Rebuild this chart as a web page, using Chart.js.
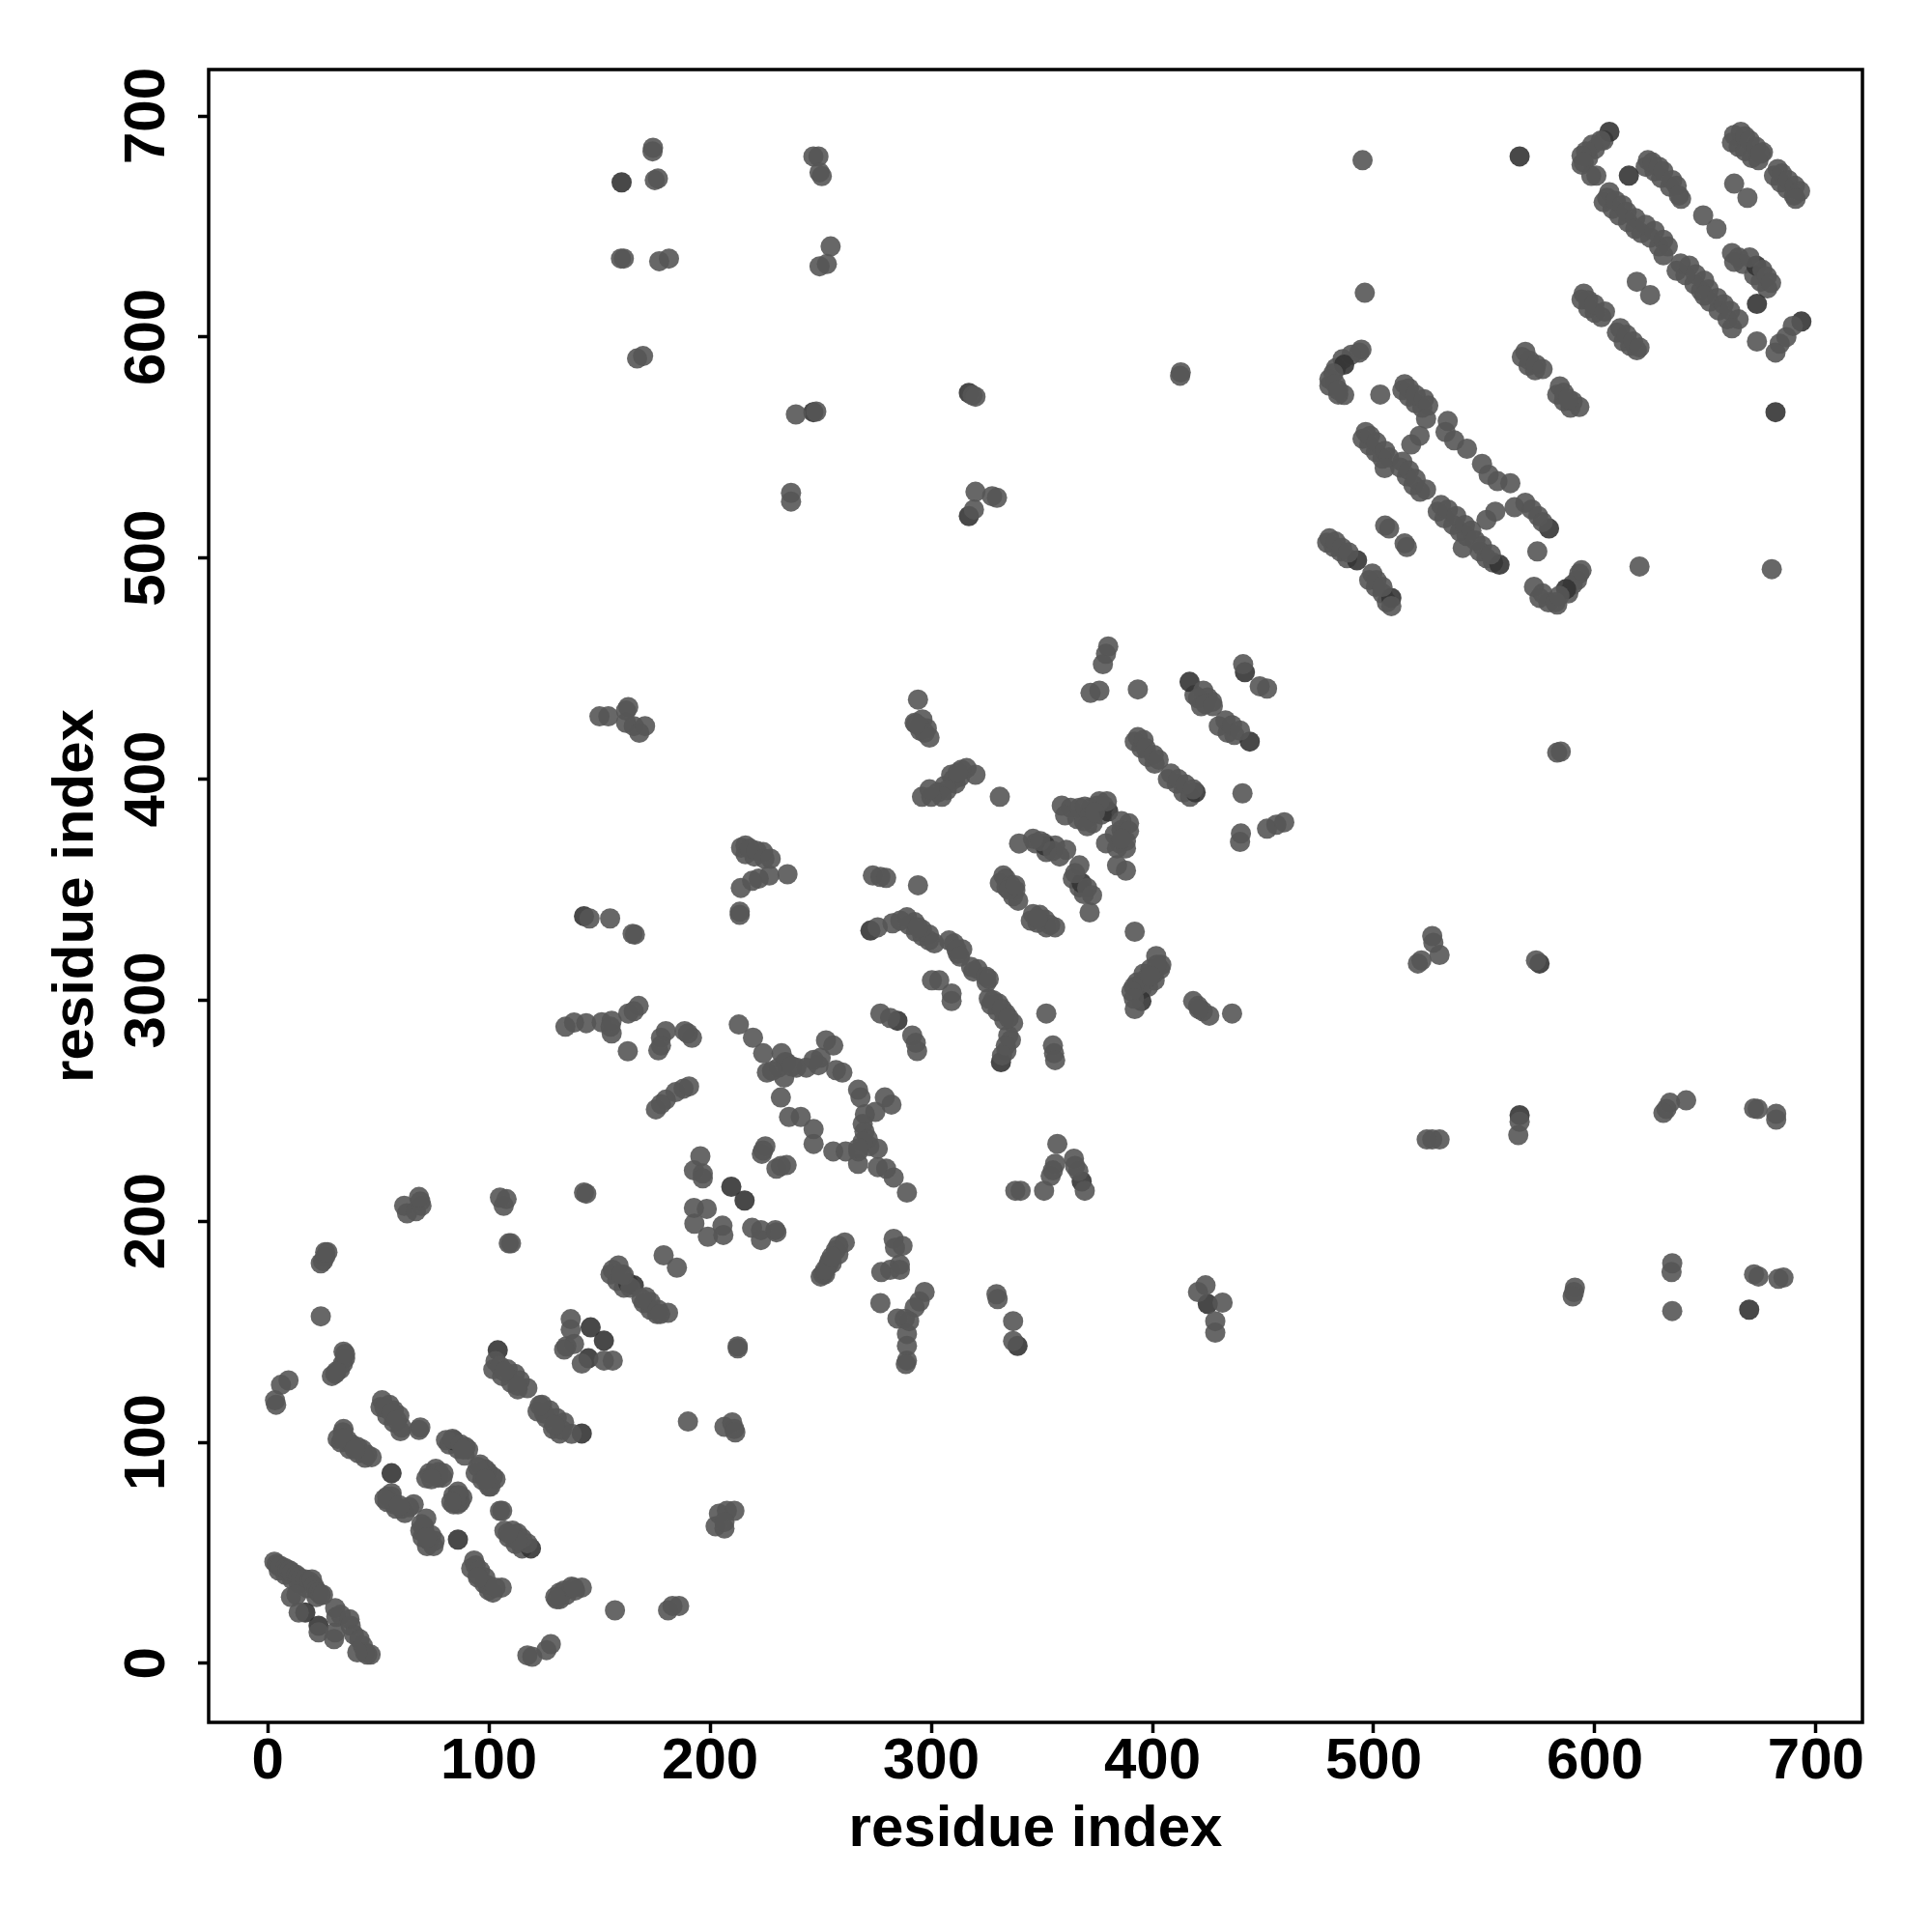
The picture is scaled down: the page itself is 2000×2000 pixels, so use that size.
<!DOCTYPE html>
<html><head><meta charset="utf-8">
<style>html,body{margin:0;padding:0;background:#fff}canvas{display:block}</style>
<script src="https://cdn.jsdelivr.net/npm/chart.js@4"></script>
</head><body><canvas id="c" width="2000" height="2000"></canvas>
<script>
const tickValues = [0,100,200,300,400,500,600,700];
const axisTitle = "residue index";
const contactsLowerLeft = [[3,46],[4,45],[5,44],[6,44],[8,43],[9,42],[10,42],[11,41],[13,40],[14,39],[15,38],[17,38],[19,37],[20,38],[21,35],[22,33],[23,32],[24,31],[25,31],[10.5,30],[13,31],[14,23],[23,14],[30,11],[30.5,14],[31,21],[30.5,25],[33,22],[37,20],[37.5,17],[39,13],[41.5,11],[43,8],[44,5],[45,4],[46.5,4],[40.5,5],
[24,181],[25,182],[26,184],[26,186],[27,186],[24,157],[61.7,207],[63,203.6],[67,204.6],[69,209],[69.5,207],[68.4,211],[105,210.7],[106.7,207],[108,210],[109,190],[110,190],[143,213],[144,212.5],
[3.3,119],[3.8,117],[6,126],[9.4,128],[29,130],[30.5,131],[32.7,133],[34,135.6],[35,138],[34.3,141],[31,132],[35,140],
[31.6,101.6],[34.3,106],[34,104.5],[36,101],[38,99],[40.5,98],[42.8,96.7],[45,94.4],[47,93.3],[33.8,102],[39.4,96.7],
[51.7,119],[55,117],[57,114.5],[59.5,112],[60.6,106.7],[52.8,115.6],[56,113.4],[58.4,110],[69,106.7],[68.4,105.6],
[80.6,101],[83.5,101.6],[87.3,99],[89.5,97.8],[90.6,96.7],[88.4,96.7],[96,90],[98.4,87.8],[99.5,86.6],[101.8,84.4],[103,83.3],[100.7,80],[95,88.9],[98.4,83.3],
[71.7,83.7],[75,85.5],[77.3,86.6],[79.5,86],[74,83.3],[86,77.7],[85,74],[84,72],[86.6,76],[83,73],
[54,75.5],[56,75.5],[57,72],[60.6,70],[64,70.6],[66,72],[52.8,74.4],[59.5,71.5],[71.7,65.5],[70.6,62],[71,59],[73,55.5],[75.5,55.5],[75,53],[69.5,63],[72,57],
[106,69],[105,69],[107,60],[110.7,60],[113,58.8],[115,56.6],[117.4,54.3],[113,55.5],[108.5,59],
[93.3,46.5],[94,44.3],[96,42],[98.4,38.8],[99.5,35.4],[101.8,32],[105.8,34.3],[103,34.3],[95,38.8],
[130.7,29],[132,32],[134,33],[137.4,34.7],[142,34.3],[138.5,34.3],[130,30],[157,24],[181,24],[183,26],[186,26],[117.4,3.6],[119.6,3],[126,6],[128,8.7],
[103,136.7],[105,134.5],[108.5,133],[111.8,131],[114,128],[117.4,124.5],[113,125.6],[107,132],[124,117],[127.4,114.5],[130.7,111],[134,109],[133,105.6],[137.4,103.8],[125,113],[123,116.7],[129.6,107.8],
[137,155.7],[137,151],[135,143.4],[138.5,144.5],[142,135.6],[152,137],[156,137],[134,142],[158.6,180],[156,178],[161,175.7],[164,170],[171,165.7],[173,163.5],[176.4,160],[181,158.6],[177.5,158],[169,165],[160,176],
[179,184.6],[185,179],[212.5,143.4],[212.5,142.5],[190,109.4],[206.5,107],[210,109],[211,106],[211.4,104.5],[202.5,62],[204,67.7],[206.5,61],[207.6,69],[211,69],[206.5,64]];
const contactsCentre = [[150,428.4],[154,428.4],[163,432.6],[162,431],[162,425.5],[165.5,424],[168,421],[170.6,424],
[214,369],[218,368.7],[221,367.6],[224.6,364],[227.4,364],[235,357],[226.8,356.4],[222,355],[219,354],[213.9,350.8],[213.4,338.6],[213.4,340],[145.5,337],[154.8,337],[166,329.7],[165,330],
[134.6,288],[138.5,289.9],[144,289.6],[151,290],[155.5,290.7],[155.5,285],[155,288],[163,294],[167.7,297.4],[165.5,295],[162.8,276.9],
[177.8,283],[180,286],[177.8,279.5],[176.6,277.3],[188.5,286],[191.8,283],[190,285],[175.5,250.6],[177.8,253],[180,255],[184.4,258.4],[188,260],[190.5,261],
[213,289],[219.4,283],[224,276],[232.3,276],[225.7,267.3],[231,269.5],[234.6,271.8],[233.5,265],[232,256],[235.7,247.2],[241,247.2],[239,269.5],[243.5,269.5],[246.8,273],[250,274],[252.4,281.8],[255.7,279.5],[249,270.6],[256.9,268.4],[259.8,267.3],[266.9,259.5],[268,256],[279,256],[282,252.8],[274.7,249.5],[270,248.4],[269,244],[269.8,240.6],[246.8,241.7],[246.8,235],[255.7,231.6],[261.3,231.6],[267,231.6],[271.3,237.2],[266.9,226],[275.8,232.8],[275.8,224.5],[279.6,223.8],[283,219.8],[289,213],[234,272],[237,270],[228,268],[272,234],[269,236],[267,233],
[225,233.9],[223.4,230.5],[224,232],[230,223.8],[234.6,225.4],[232,225],[195.6,229.4],[192.7,223],[196.7,221.6],[196.7,219.4],[192.7,206],[198.5,205.6],[192.9,198.9],[199,193],[205.6,198],[206,193.8],[219,197],[223,196],[223,191.5],[229.5,196],[230,195],
[251,176],[253.5,180.4],[256.9,187],[260.9,190.4],[250,175],[252,178],[255,184],[283,192],[287,188.9],[283.6,188],[277.4,177],[281.4,178],[285.8,180.4],[285.8,178],[277,163],[297,168],[294.7,163.7],[292.5,161],[284.7,156],[290,154.8],[288,155.9],[289,149],[289,143.6],[288.5,135.4],[289,137],
[329.5,167],[330,164.8],[337,154.8],[337,145.8],[424,171],[420.6,168],[431.7,163.2],[428.4,154.8],[428.4,149.6],[338,213.8],[340.4,213.8],[351,213.8],[354,220.5],[356,226],[357,235],[355,223],[364.5,228.3],[366.5,222.7],[369.4,213.8],[365,225],
[294,436],[292.5,425.5],[294.7,424],[297,421],[299.2,418.8],[293,425],[320,402],[331,392],[313.7,404.3],[310,399.9],[307,395],[304.8,392],[300,392],[295.8,392],[299.2,395.4],[312,403],[273.6,356.4],[277,355.8],[279.6,355.3],[294,352],
[275.8,333],[282.5,334.8],[289,337.5],[292.5,335.3],[295.8,332],[299,329.7],[301.4,325.7],[310.3,325.7],[311.4,323],[313,319.7],[319,313],[324.8,310.7],[326,309.6],[326,300.7],[330.4,298.5],[333.7,294],[337,289.6],[334.8,284],[333.7,279.5],[332,275],[286,336],[294,333],[328,300],[332,296],[335,292],
[300.3,309],[303.6,309],[309.2,303],[309.2,299.6],[277,294],[281.4,292],[291.4,284],[293,280.7],[293.6,277],[352,294],[355,279.5],[355.5,276],[356,272.9],
[392,331],[401.7,320],[403.5,314],[400.6,311.9],[397,309.6],[394,307],[391.6,306],[390.5,304],[391.6,300.7],[392,296],[402,316],[399,311],[418.4,299.6],[420.6,297.4],[422.8,295],[425.7,293],[421,296],[436,294],
[332.6,356.4],[333.7,355],[336,352],[338,349.7],[339.3,345],[335,350],[338,352],[346,339],[349,338.6],[351.5,336.4],[353.8,334],[356,333],[348,337],[339.7,370.9],[346,373],[349.3,372],[354.9,367.6],[358,365],[361,368],[367,361],[365,357.5],[370.5,350.8],[372.7,347.5],[371.6,339.7],
[359,388],[360.5,383.6],[367,387],[369.4,387.6],[371.6,383],[376,390],[379.4,390],[370.5,378.7],[374,385],[386,381],[389.4,380],[379,371],[384,368.7],[388,368.7],[384,361],[388,358.6],[389.4,376.5],[386,373],
[380,460],[377.6,452],[379,456.7],[372,439],[376,440],[393.4,440.6],[423,440],[420.6,436.6],[424,434],[427.3,433],[433,426.6],[436,424.4],[439.6,422],[441,452],[448.5,442],[451.8,441],
[393.4,419],[396,417.7],[397,414],[400.6,411],[402.8,408.8],[408.4,402.5],[411.7,400],[415,397.6],[418.4,395.4],[440.7,393.6],[440,375.4],[439.6,371.6],[451.8,377.6],[456,379.4],[459.6,380.5]];
const contactsOffDiagonal = [[174.2,685.6],[174,684],[176.4,671.7],[175,671],[159.7,635.5],[161,635.5],[177,634.3],[181.4,635.5],[167,590.3],[169.7,591.4],[246.7,681.7],[249,681.7],[249.5,674.5],[250.5,672.8],[254.5,641],[249.5,632],[252.8,633],[238.8,565],[248,566.3],[236.6,529.5],[236.6,525.6],[318.7,573.6],[320,573],[320,530],[327.5,528],[329.7,527.3],[319.3,522],[412.8,584],[412.5,582.5],[584.6,412.5],[583,412],
[520,316.6],[521.6,318],[526.5,329],[527,326],[529.8,320.5],[573.4,318],[526.5,237],[529.8,237],[524,237],[565.4,239],[566,245],[632.4,250.8],[634,253.6],[631,249],[641.3,254.7],[673.6,250.8],[672,251],[682,248.6],[682,246],[590.6,168],[591,170],[590,166],[634.7,177],[635,181],[635,159.4],[672,176],[674,175],[685.3,174.5],[683,174]];
const contactsUpperRight = [[495,680],[496,620],[602.7,688.9],[598.8,687],[596,684],[594,682],[595,679],[598.4,672.9],[600.7,673],
[624,680],[626,679],[629,677],[631,675],[635,671],[637,668.4],[639,662.5],[638,664],[663,669.4],[669,663],[649,655],[655,649],
[663,691.4],[666,692.8],[668,690.8],[670,689],[673,686],[676,683.6],[675,683],[682.7,676],[684.6,674],[687.5,671],[690.5,668.4],[692.8,666],[690.8,662.5],
[606.6,665.5],[605.6,663],[609.5,661.6],[612.5,659.6],[614.4,656.7],[618.3,653.8],[618.3,648.9],[623,650.8],[627,648],[631,644],[633,641],[631,637],[638.8,633.3],[642.7,632.3],[645.6,628.4],[649.5,625.5],[651.5,621.6],[649.5,618.7],[655.4,617.7],[658.3,614.8],[661.2,611.9],[665,608],[662,604],[619,625],[625,619],
[662,638],[665,636],[670,636],[675.8,630.4],[677.8,627.4],[679.7,624.5],[673.3,598],[681.7,593],[683.6,597],[686.6,600],[689.5,605],
[595,619.6],[597,616.7],[599.8,614.8],[604.6,611.5],[611.5,604],[614.4,601],[617.3,598],[620.2,595.3],[568.6,593.3],[570.5,589.4],[573.5,587.5],[576.4,585.5],[584.2,577.7],[586,574.8],[590,570.9],[593,568.4],[588,572],
[494.5,594.3],[493.5,593],[481.8,583.6],[482.8,578.7],[486.7,573.8],[484,576],[503,574],
[514,578.7],[516,576.8],[519,573.8],[522.8,571.9],[524.7,569],[523.7,563],[533.5,562],[532.5,557],[536.4,553.3],[542.2,549.5],[549,542.6],[552,537.7],[556,534.8],[561.8,533.9],[563.7,523],[568.6,525],[571.5,522],[574.4,519],[576.4,516.3],[520.8,555.3],[517,551.4],
[496.4,557],[498.4,555.3],[501.3,552.4],[505.2,548.5],[507,545.6],[505,540.7],[513,543.6],[516,539.7],[519,535.8],[523.7,531],[530.5,524],[533.6,522],[537.4,519],[541.3,515],[544.2,512.4],[540.3,504.6],[549,505.6],[553,501.7],[546,508],[551,517.3],[555,521],
[505.2,514.7],[514,506.6],[507,513.4],[515,505],[574,503],[480,508.9],[482.8,507.5],[485.7,504.6],[488.6,502.6],[499.4,493],[501.3,490],[504,487],[508,478.3],[572.5,487],[576.4,484],[582.2,480],[584,483],[593,493],[594,494.5],[620.2,496.2],[680,495]];
const contactsBandLower = [[5,42],[8,40],[11,38],[14,36],[18,34],[22,30],[33,100],[37,97],[41,95],[44,93],[51,116],[54,112],[57,109],[60,105],[82,99],[86,97],[89,94],[94,86],[97,83],[100,80],[73,86],[77,84],[76,88],[79,84],[87,73],[84,76],[86,72],[88,75],[54,73],[58,70],[62,68],[56,77],[69,60],[72,53],[74,58],[70,57],[109,57],[112,54],[115,52],[92,43],[95,40],[98,36],[100,33],[132,29],[135,31],[139,33],[102,133],[106,130],[110,127],[113,124],[122,114],[126,111],[129,106],[132,104],[155,176],[158,173],[161,170],[170,163],[173,160],[176,158]];
const contactsBandCentre = [[216,366],[220,365],[224,367],[216,370],[252,176],[255,181],[258,185],[254,182],[258,189],[295,422],[298,423],[296,427],[303,394],[306,397],[309,402],[311,398],[313,401],[316,405],[290,334],[293,331],[296,329],[299,327],[308,327],[312,321],[314,323],[318,315],[321,314],[325,308],[327,298],[330,295],[333,291],[336,282],[334,277],[331,353],[334,351],[337,347],[345,336],[348,335],[352,333],[347,371],[351,371],[352,367],[356,370],[364,355],[367,351],[369,348],[363,387],[366,382],[369,381],[372,387],[375,388],[373,380],[377,384],[378,388],[383,375],[386,377],[388,372],[385,371],[419,438],[422,433],[425,437],[427,435],[430,424],[434,421],[437,420],[392,417],[395,414],[398,410],[401,407],[407,400],[411,398],[414,394],[417,392],[395,305],[398,306],[401,309],[393,308],[396,312],[399,314],[404,316]];
const contactsBandUpper = [[513,576],[516,573],[519,570],[522,568],[495,554],[498,551],[501,548],[504,545],[512,541],[515,537],[518,533],[521,530],[529,521],[532,518],[536,515],[539,512],[542,510],[548,503],[551,500],[554,498],[479,507],[482,505],[485,503],[488,500],[498,490],[501,487],[504,484],[506,480],[594,617],[597,613],[600,611],[603,609],[610,602],[613,598],[616,596],[619,594],[567,591],[570,587],[573,585],[583,574],[586,571],[589,568],[604,661],[608,658],[611,655],[615,652],[621,647],[625,645],[629,641],[637,630],[641,628],[645,624],[648,621],[652,616],[656,612],[660,608],[623,677],[627,675],[630,672],[634,668],[662,688],[665,686],[668,684],[671,681],[674,680],[681,673],[684,670],[687,667],[690,664],[663,634],[667,633],[672,628],[675,625],[678,622],[594,678],[597,681],[600,685],[604,689],[480,581],[483,586],[486,590],[490,592],[484,574],[480,578],[575,482],[579,480],[583,479],[588,484],[590,488],[592,490]];
const darkContacts = [[17,23],[23,17],[56,86],[86,56],[146,152],[152,146],[145,138],[163,172],[165.5,171],[142,104],[104,141.6],[119,52],[84,101],[86,76],
[143,338],[160,670],[246.7,566],[284.7,290.7],[272.5,331.5],[331.5,272],[339,143.6],[368,218],[425,162.6],[209.6,215.6],[215.6,209.4],[351.6,369.8],[368,353],[380,385.4],[416.8,444],[441.8,448.4],[444,417],[419.5,394],[395,299.6],
[566,681.7],[566,248],[575,316.6],[606.6,692.8],[615.4,673],[673,632.3],[673.3,615],[693.4,607],[681.7,566],[486.7,587.5],[579.3,513.4],[556.9,497],[492.5,499],[508,482],[587,486],[669.8,160],[317,574.7],[317,519]];

const toPts = list => list.map(p => ({x:p[0], y:p[1]}));
const axisFont = {family:"'Liberation Sans'", size:60, weight:'bold'};
const lightPoint = 'rgba(86,86,86,0.9)';
const darkPoint = 'rgba(52,52,52,0.9)';
const setTicks = s => { s.ticks = tickValues.map(v => ({value:v})); };
function axis(fit, titlePadding, tickOpts){
  return {
    type:'linear', min:-26.7, max:721,
    afterBuildTicks:setTicks, afterFit:fit,
    border:{display:false},
    grid:{drawOnChartArea:false, drawTicks:true, tickLength:11, tickWidth:3.5, tickColor:'#000'},
    ticks:Object.assign({color:'#000', font:axisFont, autoSkip:false, includeBounds:false}, tickOpts),
    title:{display:true, text:axisTitle, color:'#000', font:axisFont, padding:titlePadding}
  };
}
const boxPlugin = {id:'box', afterDraw(c){
  const a=c.chartArea, g=c.ctx; g.save(); g.strokeStyle='#000'; g.lineWidth=3.5;
  g.strokeRect(a.left,a.top,a.right-a.left,a.bottom-a.top); g.restore();
}};
const ds = (list,col) => ({data:toPts(list), backgroundColor:col, borderWidth:0, pointRadius:10.5, pointHoverRadius:10.5});
new Chart(document.getElementById('c'),{
  type:'scatter',
  data:{datasets:[
    ds(contactsUpperRight,lightPoint),ds(contactsCentre,lightPoint),ds(contactsLowerLeft,lightPoint),ds(contactsOffDiagonal,lightPoint),
    ds(darkContacts,darkPoint),
    ds(contactsBandUpper,lightPoint),ds(contactsBandCentre,lightPoint),ds(contactsBandLower,lightPoint)
  ]},
  options:{
    responsive:false, animation:false, devicePixelRatio:1,
    layout:{padding:{top:72,right:72,left:0,bottom:0}},
    plugins:{legend:{display:false},tooltip:{enabled:false}},
    scales:{
      x:axis(s=>{s.height=217;},{top:0,bottom:70},{maxRotation:0,minRotation:0,padding:-6}),
      y:axis(s=>{s.width=216;},{top:43,bottom:0},{minRotation:90,maxRotation:90,crossAlign:'center',padding:1})
    }
  },
  plugins:[boxPlugin]
});
</script></body></html>
